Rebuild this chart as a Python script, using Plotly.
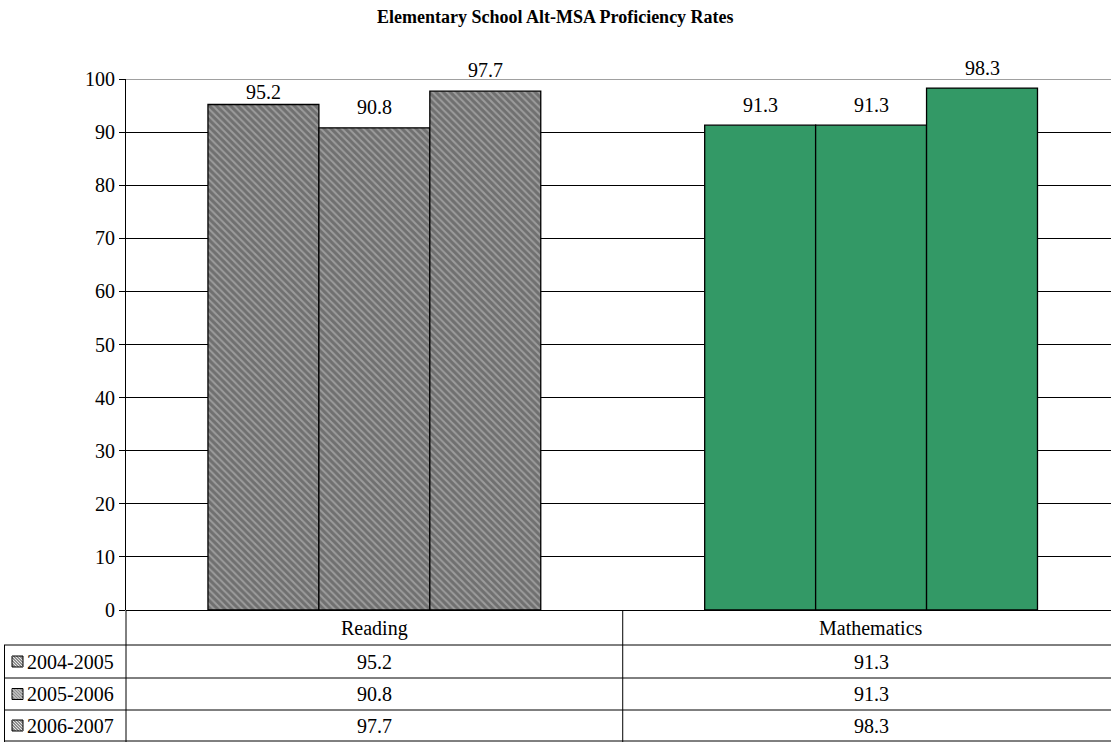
import plotly.graph_objects as go

categories = ["Reading", "Mathematics"]
series_names = ["2004-2005", "2005-2006", "2006-2007"]
values = {
    "2004-2005": [95.2, 91.3],
    "2005-2006": [90.8, 91.3],
    "2006-2007": [97.7, 98.3],
}
y_ticks = [0, 10, 20, 30, 40, 50, 60, 70, 80, 90, 100]
title = "Elementary School Alt-MSA Proficiency Rates"

# label gap above each bar (px), styling only
label_gap = {
    "2004-2005": [12, 20],
    "2005-2006": [21, 20],
    "2006-2007": [21, 20],
}

W, H = 1111, 742
L, R, T, B = 126, 0, 79, 132
PW, PH = W - L - R, H - T - B
FONT = "Liberation Serif"
FS = 20
XR = [-0.5, 1.483]
BARGAP = 0.33
unit_px = PW / (XR[1] - XR[0])
bar_px = unit_px * (1 - BARGAP) / len(series_names)

bar_colors = ["#9c9c9c", "#339966"]
bar_patterns = ["\\", ""]

fig = go.Figure()
for name in series_names:
    fig.add_trace(go.Bar(
        x=categories, y=values[name], name=name,
        marker=dict(color=bar_colors, line=dict(color="black", width=1.3),
                    pattern=dict(shape=bar_patterns, fgcolor="#eeeeee", size=5, solidity=0.6)),
        showlegend=False,
    ))

def py(p):
    return (H - B - p) / PH

def px(p):
    return (p - L) / PW

shapes = []
ann = []
for i, name in enumerate(series_names):
    for c, v, g in zip(categories, values[name], label_gap[name]):
        ann.append(dict(x=c, xref="x", y=v, yref="y", text=f"{v:.1f}", showarrow=False,
                        xanchor="center", yanchor="middle",
                        xshift=(i - (len(series_names) - 1) / 2) * bar_px, yshift=g,
                        font=dict(family=FONT, size=FS, color="black")))
shapes.append(dict(type="line", xref="paper", yref="y", x0=0, x1=1, y0=100, y1=100,
                   line=dict(color="#808080", width=1.5), layer="above"))
row_tops = [610, 645, 678, 710, 741]
for yy in row_tops[1:]:
    shapes.append(dict(type="line", xref="paper", yref="paper", x0=px(4), x1=1.0,
                       y0=py(yy), y1=py(yy), line=dict(color="black", width=1)))
shapes.append(dict(type="line", xref="paper", yref="paper", x0=0, x1=0, y0=py(610), y1=py(742),
                   line=dict(color="black", width=1)))
shapes.append(dict(type="line", xref="paper", yref="paper", x0=px(4.5), x1=px(4.5), y0=py(645), y1=py(742),
                   line=dict(color="black", width=1)))
shapes.append(dict(type="line", xref="x", yref="paper", x0=0.5, x1=0.5, y0=py(610), y1=py(742),
                   line=dict(color="black", width=1)))
for c in categories:
    ann.append(dict(x=c, xref="x", y=py(628), yref="paper", text=c, showarrow=False,
                    xanchor="center", yanchor="middle",
                    font=dict(family=FONT, size=FS, color="black")))
for i, name in enumerate(series_names):
    yc = (row_tops[i + 1] + row_tops[i + 2]) / 2
    ann.append(dict(x=px(25), xref="paper", y=py(yc), yref="paper", text=name, showarrow=False,
                    xanchor="left", yanchor="middle", font=dict(family=FONT, size=FS, color="black")))
    kx0, kx1, ky0, ky1 = 12, 23, yc - 5.5, yc + 5.5
    shapes.append(dict(type="rect", xref="paper", yref="paper", x0=px(kx0), x1=px(kx1),
                       y0=py(ky1), y1=py(ky0), fillcolor="#8e8e8e", line=dict(color="black", width=1)))
    for a in [-6, -3, 0, 3, 6]:
        x_start, y_start = kx0 + max(a, 0), ky0 + max(-a, 0)
        x_end, y_end = kx1 + min(a, 0), ky1 + min(-a, 0)
        if x_end - x_start > 1:
            shapes.append(dict(type="line", xref="paper", yref="paper",
                               x0=px(x_start + 0.7), x1=px(x_end - 0.7),
                               y0=py(y_start + 0.7), y1=py(y_end - 0.7),
                               line=dict(color="#e6e6e6", width=1)))
    for c, v in zip(categories, values[name]):
        ann.append(dict(x=c, xref="x", y=py(yc), yref="paper", text=f"{v:.1f}", showarrow=False,
                        xanchor="center", yanchor="middle",
                        font=dict(family=FONT, size=FS, color="black")))

ann.append(dict(x=px(W / 2), xref="paper", y=py(17), yref="paper", xanchor="center", yanchor="middle",
                text=f"<b>{title}</b>", showarrow=False, font=dict(family=FONT, size=18, color="black")))

fig.update_layout(
    width=W, height=H, margin=dict(l=L, r=R, t=T, b=B, pad=0),
    plot_bgcolor="white", paper_bgcolor="white",
    barmode="group", bargap=BARGAP, bargroupgap=0,
    shapes=shapes, annotations=ann,
    font=dict(family=FONT, color="black"),
    xaxis=dict(range=XR, showticklabels=False, ticks="", showgrid=False,
               showline=False, zeroline=False, fixedrange=True),
    yaxis=dict(range=[0, 100], tickvals=y_ticks, ticks="outside", ticklen=6, tickcolor="black",
               showgrid=True, gridcolor="black", gridwidth=1, showline=True, linecolor="black",
               linewidth=1, zeroline=True, zerolinecolor="black", zerolinewidth=1,
               tickfont=dict(family=FONT, size=FS, color="black")),
)
fig.write_html("out.html", config={"displayModeBar": False},
               post_script="document.body.style.margin='0px';document.body.style.overflow='hidden';")
